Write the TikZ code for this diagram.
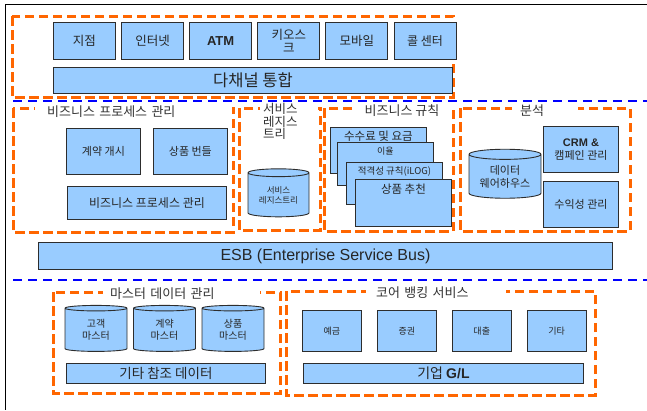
\documentclass[tikz,border=0pt]{standalone}
\usepackage{fontspec}
\setmainfont{Liberation Sans}
\newfontfamily\kr{Noto Sans CJK KR}
\usepackage{tikz}
\usetikzlibrary{shapes.geometric, positioning}
\usepackage{xcolor}
\definecolor{boxfill}{RGB}{153, 204, 255}
\definecolor{boxline}{RGB}{45, 45, 45}
\definecolor{grouporange}{RGB}{255, 102, 0}
\definecolor{layerblue}{RGB}{0, 0, 255}
\tikzstyle{frame}      = [draw=black, line width=1pt]
\tikzstyle{group}      = [draw=grouporange, line width=3pt, dash pattern=on 9.5pt off 4.5pt]
\tikzstyle{layer}      = [draw=layerblue, line width=2pt, dash pattern=on 9pt off 6pt]
\tikzstyle{block}      = [rectangle, draw=boxline, fill=boxfill, line width=0.9pt,
                          inner sep=1pt, align=center, text=black!85]
\tikzstyle{channel}    = [block, anchor=north west, minimum width=62pt, minimum height=37pt,
                          font={\kr\fontsize{12.5}{13}\selectfont}]
\tikzstyle{bar}        = [block, anchor=north west, font={\kr\fontsize{14}{15}\selectfont}]
\tikzstyle{store}      = [cylinder, shape border rotate=90, aspect=0.2, draw=boxline,
                          fill=boxfill, line width=0.9pt, inner sep=0pt, align=center,
                          text=black!85]
\tikzstyle{card}       = [block, anchor=north west, minimum width=96pt]
\tikzstyle{grouplabel} = [fill=white, inner ysep=1pt, align=left, text=black!80,
                          font={\kr\fontsize{13}{12.5}\selectfont}]

\begin{document}
\begin{tikzpicture}[x=1pt, y=-1pt]
  \useasboundingbox (0,0) rectangle (647,410);
  \draw [frame] (647,4.5) -- (5.5,4.5) -- (5.5,410);

  % channels
  \draw [group] (12,16) rectangle (453,97);
  \node (branch)   [channel] at (53,22) {지점};
  \node (internet) [channel, right=5.2pt of branch] {인터넷};
  \node (atm)      [channel, right=5.2pt of internet, font={\bfseries\fontsize{13}{14}\selectfont}] {ATM};
  \node (kiosk)    [channel, right=5.2pt of atm] {키오스\\크};
  \node (mobile)   [channel, right=5.2pt of kiosk] {모바일};
  \node (call)     [channel, right=5.2pt of mobile, font={\kr\fontsize{12}{12}\selectfont}] {콜 센터};
  \node (multi)    [bar, minimum width=399pt, minimum height=26pt,
                    font={\kr\fontsize{16.5}{17}\selectfont}] at (53,67) {다채널 통합};

  \draw [layer] (13,101) -- (647,101);

  % business process management
  \draw [group] (13,108) rectangle (233,232);
  \node (bpmtitle) [grouplabel, anchor=west, text width=173pt, inner xsep=12pt] at (35,112)
                   {비즈니스 프로세스 관리};
  \node (contract) [block, anchor=north west, minimum width=74pt, minimum height=46pt,
                    font={\kr\fontsize{11}{12}\selectfont}] at (66,128) {계약 개시};
  \node (bundle)   [block, right=12pt of contract, minimum width=74pt, minimum height=46pt,
                    font={\kr\fontsize{11}{12}\selectfont}] {상품 번들};
  \node (bpm)      [bar, minimum width=159pt, minimum height=33pt,
                    font={\kr\fontsize{12}{12}\selectfont}] at (67,186) {비즈니스 프로세스 관리};

  % service registry
  \draw [group] (239,108) rectangle (320,230);
  \node (regtitle) [grouplabel, anchor=north west, text width=52pt, inner xsep=3pt,
                    font={\kr\fontsize{12.5}{12.5}\selectfont}] at (260,102)
                   {서비스\\레지스\\트리};
  \node (registry) [store, minimum width=61pt, minimum height=48pt,
                    font={\kr\fontsize{8.5}{10}\selectfont}] at (278.5,195) {서비스\\레지스트리};

  % business rules
  \draw [group] (324,108) rectangle (453,231);
  \node (rulestitle) [grouplabel, align=center, minimum width=96pt] at (402,111) {비즈니스 규칙};
  \node (fees)    [card, minimum height=46pt] at (330,127) {};
  \node (feestext) [below=0.5pt of fees.north, font={\kr\fontsize{11.5}{12}\selectfont}, text=black!85]
                   {수수료 및 요금};
  \node (rate)    [card, minimum height=43pt] at (337,142) {};
  \node (ratetext) [below=2pt of rate.north, font={\kr\fontsize{9}{10}\selectfont}, text=black!85]
                   {이율};
  \node (elig)    [card, minimum height=42pt] at (346,162) {};
  \node (eligtext) [below=1pt of elig.north, font={\kr\fontsize{9.5}{10}\selectfont}, text=black!85]
                   {적격성 규칙(iLOG)};
  \node (recom)   [card, minimum height=47pt] at (355,179) {};
  \node (recomtext) [below=1pt of recom.north, font={\kr\fontsize{11.5}{12}\selectfont}, text=black!85]
                    {상품 추천};

  % analytics
  \draw [group] (460,108) rectangle (630,231);
  \node (antitle)  [grouplabel, anchor=west, text width=50pt, inner xsep=8pt] at (512,111) {분석};
  \node (dw)       [store, minimum width=72pt, minimum height=49pt,
                    font={\kr\fontsize{11}{13}\selectfont}] at (505,176.5) {데이터\\웨어하우스};
  \node (crm)      [block, anchor=north west, minimum width=75pt, minimum height=46pt,
                    font={\kr\fontsize{11}{13}\selectfont}] at (543,126)
                   {{\normalfont\bfseries CRM \&}\\캠페인 관리};
  \node (profit)   [block, below=8pt of crm, minimum width=75pt, minimum height=46pt,
                    font={\kr\fontsize{11}{12}\selectfont}] {수익성 관리};

  \node (esb)      [bar, minimum width=574pt, minimum height=27pt,
                    font={\fontsize{16}{17}\selectfont}] at (38,242) {ESB (Enterprise Service Bus)};

  \draw [layer] (13,280) -- (647,280);

  % master data management
  \draw [group] (53,292) rectangle (280,393);
  \node (mdmtitle) [grouplabel, anchor=west, text width=143pt, inner xsep=7pt] at (103,294)
                   {마스터 데이터 관리};
  \node (custm)    [store, minimum width=62pt, minimum height=46pt,
                    font={\kr\fontsize{10}{11.5}\selectfont}] at (96,330) {고객\\마스터};
  \node (contm)    [store, minimum width=62pt, minimum height=46pt,
                    font={\kr\fontsize{10}{11.5}\selectfont}] at (164.5,330) {계약\\마스터};
  \node (prodm)    [store, minimum width=62pt, minimum height=46pt,
                    font={\kr\fontsize{10}{11.5}\selectfont}] at (233,330) {상품\\마스터};
  \node (refdata)  [bar, minimum width=199pt, minimum height=20pt,
                    font={\kr\fontsize{13.5}{14}\selectfont}] at (66,363) {기타 참조 데이터};

  % core banking services
  \draw [group] (286,291) rectangle (595,395);
  \node (coretitle) [grouplabel, anchor=west, text width=120pt, inner xsep=10pt] at (366,293)
                    {코어 뱅킹 서비스};
  \node (deposit)  [block, anchor=north west, minimum width=59pt, minimum height=41pt,
                    font={\kr\fontsize{9}{10}\selectfont}] at (302,310) {예금};
  \node (secur)    [block, right=15pt of deposit, minimum width=59pt, minimum height=41pt,
                    font={\kr\fontsize{9}{10}\selectfont}] {증권};
  \node (loan)     [block, right=15pt of secur, minimum width=59pt, minimum height=41pt,
                    font={\kr\fontsize{9}{10}\selectfont}] {대출};
  \node (others)   [block, right=15pt of loan, minimum width=59pt, minimum height=41pt,
                    font={\kr\fontsize{9}{10}\selectfont}] {기타};
  \node (gl)       [bar, minimum width=280pt, minimum height=20pt] at (303,363)
                   {기업 {\normalfont\bfseries G/L}};
\end{tikzpicture}
\end{document}
